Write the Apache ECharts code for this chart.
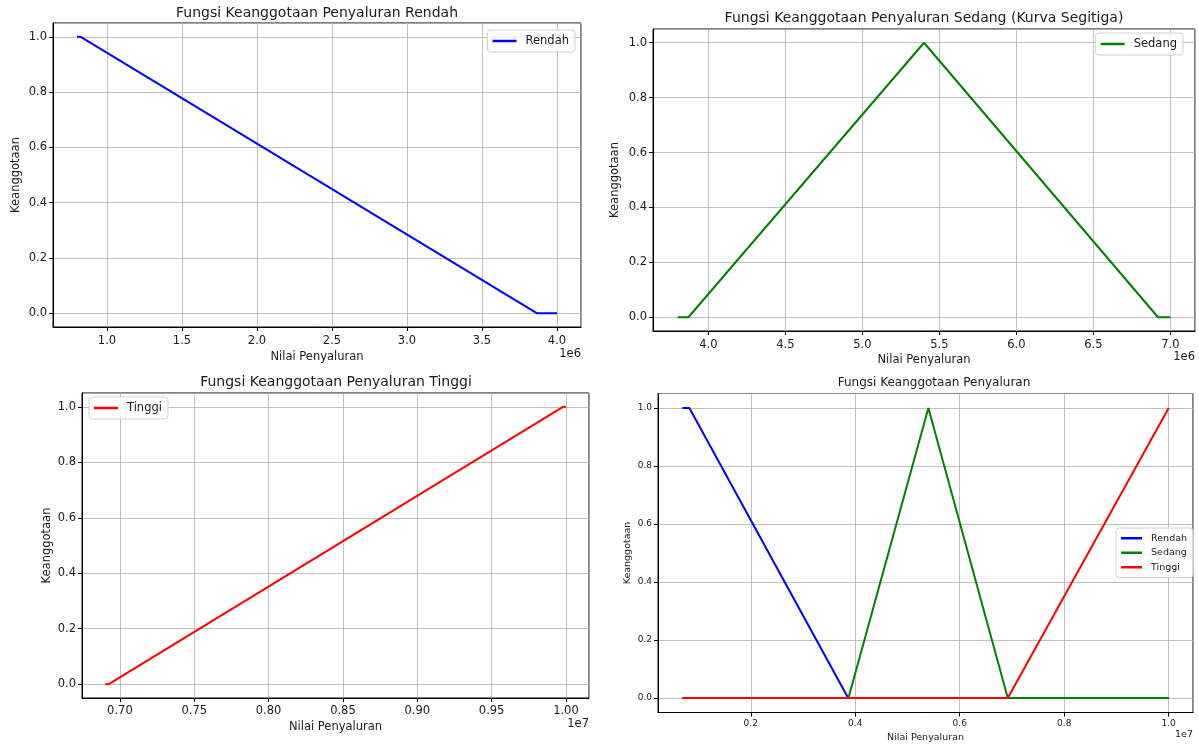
<!DOCTYPE html>
<html>
<head>
<meta charset="utf-8">
<script src="https://cdn.jsdelivr.net/npm/echarts@6/dist/echarts.min.js"></script>
<style>
  html, body { margin: 0; padding: 0; background: #fff; }
  #chart { width: 1199px; height: 747px; }
</style>
</head>
<body>
<div id="chart"></div>
<script>
// break points of each membership curve (x = nilai penyaluran, y = keanggotaan)
const rendahX = [800000, 825000, 3865000, 4000000];
const rendahY = [1, 1, 0, 0];
const sedangX = [3800000, 3870000, 5400000, 6920000, 7000000];
const sedangY = [0, 0, 1, 0, 0];
const tinggiX = [6900000, 6925000, 9980000, 10000000];
const tinggiY = [0, 0, 1, 1];

// combined universe
const allRendahX = [690000, 825000, 3865000, 10000000];
const allRendahY = [1, 1, 0, 0];
const allSedangX = [690000, 3870000, 5400000, 6920000, 10000000];
const allSedangY = [0, 0, 1, 0, 0];
const allTinggiX = [690000, 6920000, 10000000];
const allTinggiY = [0, 0, 1];

const titles = [
  'Fungsi Keanggotaan Penyaluran Rendah',
  'Fungsi Keanggotaan Penyaluran Sedang (Kurva Segitiga)',
  'Fungsi Keanggotaan Penyaluran Tinggi',
  'Fungsi Keanggotaan Penyaluran'
];
const xName = 'Nilai Penyaluran';
const yName = 'Keanggotaan';

const F = 'DejaVu Sans';
const BLUE = '#0000ff', GREEN = '#008000', RED = '#ff0000';

const pairs = (xs, ys) => xs.map((x, i) => [x, ys[i]]);
const pad = v => v.min - (v.max - v.min) * 0.05;
const padMax = v => v.max + (v.max - v.min) * 0.05;

const grids = [
  {left: 53, top: 23, width: 528, height: 304},
  {left: 653, top: 29, width: 542, height: 302},
  {left: 82, top: 393, width: 507, height: 305},
  {left: 658, top: 393.5, width: 535, height: 319}
];

function xAx(i, split, fmt, fs, nfs, gap, m) {
  return {
    type: 'value', gridIndex: i, min: pad, max: padMax, splitNumber: split,
    name: xName, nameLocation: 'middle', nameGap: gap,
    nameTextStyle: {fontFamily: F, fontSize: nfs, color: '#1a1a1a'},
    axisLine: {show: true, onZero: false, lineStyle: {color: '#000', width: 1}},
    axisTick: {show: true, length: 4, lineStyle: {color: '#000'}},
    axisLabel: {fontFamily: F, fontSize: fs, color: '#1a1a1a', margin: m,
      showMinLabel: false, showMaxLabel: false, formatter: fmt},
    splitLine: {show: true, lineStyle: {color: '#b0b0b0', width: 0.8}}
  };
}
function yAx(i, fs, nfs, gap) {
  return {
    type: 'value', gridIndex: i, min: -0.05, max: 1.05, splitNumber: 5,
    name: yName, nameLocation: 'middle', nameGap: gap,
    nameTextStyle: {fontFamily: F, fontSize: nfs, color: '#1a1a1a'},
    axisLine: {show: true, lineStyle: {color: '#000', width: 1}},
    axisTick: {show: true, length: 4, lineStyle: {color: '#000'}},
    axisLabel: {fontFamily: F, fontSize: fs, color: '#1a1a1a', margin: 6,
      showMinLabel: false, showMaxLabel: false, formatter: v => v.toFixed(1)},
    splitLine: {show: true, lineStyle: {color: '#b0b0b0', width: 0.8}}
  };
}
function line(name, xs, ys, color, idx) {
  return {
    type: 'line', name, xAxisIndex: idx, yAxisIndex: idx,
    data: pairs(xs, ys), showSymbol: false, symbol: 'none',
    lineStyle: {color, width: 2}, itemStyle: {color}, animation: false
  };
}
function legend(names, pos, fs, lh, iw) {
  return Object.assign({
    data: names.map(n => ({name: n, icon: 'rect'})), orient: 'vertical',
    itemWidth: iw, itemHeight: 2.5, itemGap: 0,
    padding: [3, 6, 3, 5], borderColor: '#d0d0d0', borderWidth: 1, borderRadius: 3,
    backgroundColor: 'rgba(255,255,255,0.8)',
    textStyle: {fontFamily: F, fontSize: fs, color: '#1a1a1a', lineHeight: lh, padding: [0, 0, 0, 4]}
  }, pos);
}
function txt(x, y, s, fs, align) {
  return {type: 'text', x, y, style: {text: s, fontFamily: F, fontSize: fs, fill: '#1a1a1a',
    align: align || 'center', verticalAlign: 'middle'}};
}

const chart = echarts.init(document.getElementById('chart'));
chart.setOption({
  animation: false,
  backgroundColor: '#fff',
  grid: grids.map(g => Object.assign({show: true, borderColor: '#000', borderWidth: 1,
    backgroundColor: 'transparent'}, g)),
  xAxis: [
    xAx(0, 7, v => (v / 1e6).toFixed(1), 11.5, 11.5, 24, 8),
    xAx(1, 7, v => (v / 1e6).toFixed(1), 11.5, 11.5, 23, 8),
    xAx(2, 7, v => (v / 1e7).toFixed(2), 11.5, 11.5, 23, 7),
    xAx(3, 5, v => (v / 1e7).toFixed(1), 9, 9.5, 20, 7)
  ],
  yAxis: [yAx(0, 11.5, 11.5, 31), yAx(1, 11.5, 11.5, 32), yAx(2, 11.5, 11.5, 29), yAx(3, 9, 9.5, 25)],
  legend: [
    legend(['Rendah'], {right: 624, top: 30}, 11.5, 16, 24),
    legend(['Sedang'], {right: 16, top: 33}, 11.5, 16, 24),
    legend(['Tinggi'], {left: 89, top: 397}, 11.5, 16, 24),
    legend(['Rendah', 'Sedang', 'Tinggi'], {right: 6, top: 528}, 9.5, 14.5, 21)
  ],
  graphic: [
    txt(317, 13, titles[0], 14),
    txt(924, 18, titles[1], 14),
    txt(336, 382, titles[2], 14),
    txt(934, 383, titles[3], 12),
    txt(581, 354, '1e6', 11.5, 'right'),
    txt(1195, 357, '1e6', 11.5, 'right'),
    txt(589, 724, '1e7', 11.5, 'right'),
    txt(1193, 735, '1e7', 9.5, 'right')
  ],
  series: [
    line('Rendah', rendahX, rendahY, BLUE, 0),
    line('Sedang', sedangX, sedangY, GREEN, 1),
    line('Tinggi', tinggiX, tinggiY, RED, 2),
    line('Rendah', allRendahX, allRendahY, BLUE, 3),
    line('Sedang', allSedangX, allSedangY, GREEN, 3),
    line('Tinggi', allTinggiX, allTinggiY, RED, 3)
  ]
});
</script>
</body>
</html>
